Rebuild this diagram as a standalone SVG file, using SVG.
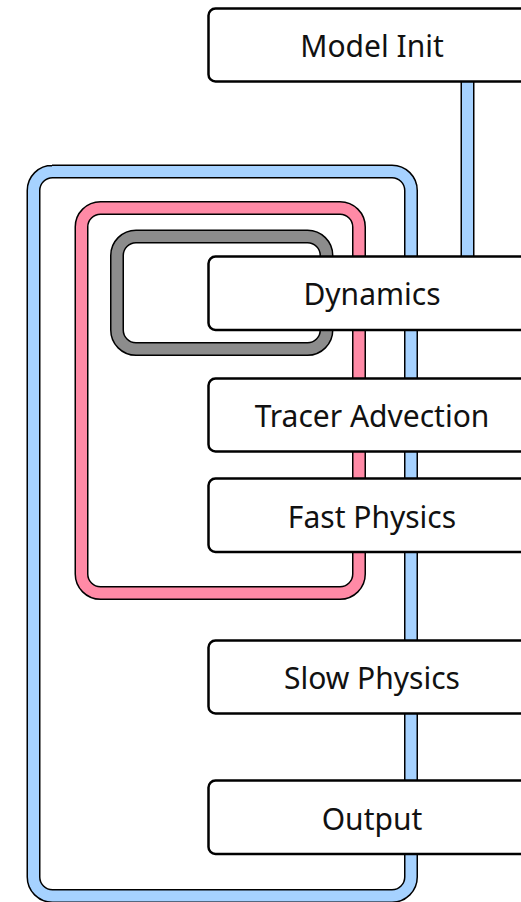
<svg xmlns="http://www.w3.org/2000/svg" width="521" height="902" viewBox="0 0 521 902">
  <style>
    .edge-o { fill: none; stroke: #000; stroke-width: 14; }
    .blue { fill: none; stroke: #a6d2ff; stroke-width: 11; }
    .pink { fill: none; stroke: #ff8aa6; stroke-width: 11; }
    .gray { fill: none; stroke: #8c8c8c; stroke-width: 11; }
    .box rect { fill: #fff; stroke: #000; stroke-width: 2.5; }
    .box text { font-family: "Noto Sans", "Open Sans", sans-serif; font-size: 30px; fill: #111; text-anchor: middle; }
  </style>
  <rect width="521" height="902" fill="#fff"/>
  <g id="connectors">
    <path class="edge-o" d="M467.5,80 V258"/>
    <path class="blue" d="M467.5,80 V258"/>
    <path class="edge-o" d="M52,171.5 H392 A19,19 0 0 1 411,190.5 V877 A19,19 0 0 1 392,896 H52.5 A19,19 0 0 1 33.5,877 V190.5 A19,19 0 0 1 52.5,171.5 Z"/>
    <path class="blue" d="M52,171.5 H392 A19,19 0 0 1 411,190.5 V877 A19,19 0 0 1 392,896 H52.5 A19,19 0 0 1 33.5,877 V190.5 A19,19 0 0 1 52.5,171.5 Z"/>
    <path class="edge-o" d="M100.5,208 H340 A19,19 0 0 1 359,227 V574 A19,19 0 0 1 340,593 H100.5 A19,19 0 0 1 81.5,574 V227 A19,19 0 0 1 100.5,208 Z"/>
    <path class="pink" d="M100.5,208 H340 A19,19 0 0 1 359,227 V574 A19,19 0 0 1 340,593 H100.5 A19,19 0 0 1 81.5,574 V227 A19,19 0 0 1 100.5,208 Z"/>
    <path class="edge-o" d="M136,236.5 H307.5 A19,19 0 0 1 326.5,255.5 V330 A19,19 0 0 1 307.5,349 H136 A19,19 0 0 1 117,330 V255.5 A19,19 0 0 1 136,236.5 Z"/>
    <path class="gray" d="M136,236.5 H307.5 A19,19 0 0 1 326.5,255.5 V330 A19,19 0 0 1 307.5,349 H136 A19,19 0 0 1 117,330 V255.5 A19,19 0 0 1 136,236.5 Z"/>
  </g>
  <g id="model-init" class="box">
    <rect x="208.5" y="8.5" width="327" height="73" rx="7"/>
    <text x="372" y="57">Model Init</text>
  </g>
  <g id="dynamics" class="box">
    <rect x="208.5" y="256.5" width="327" height="73.5" rx="7"/>
    <text x="372" y="305">Dynamics</text>
  </g>
  <g id="tracer-advection" class="box">
    <rect x="208.5" y="378.5" width="327" height="73" rx="7"/>
    <text x="372" y="427">Tracer Advection</text>
  </g>
  <g id="fast-physics" class="box">
    <rect x="208.5" y="478.5" width="327" height="73.5" rx="7"/>
    <text x="372" y="527.5">Fast Physics</text>
  </g>
  <g id="slow-physics" class="box">
    <rect x="208.5" y="640.5" width="327" height="73" rx="7"/>
    <text x="372" y="689">Slow Physics</text>
  </g>
  <g id="output" class="box">
    <rect x="208.5" y="780.5" width="327" height="73.5" rx="7"/>
    <text x="372" y="829.5">Output</text>
  </g>
</svg>
